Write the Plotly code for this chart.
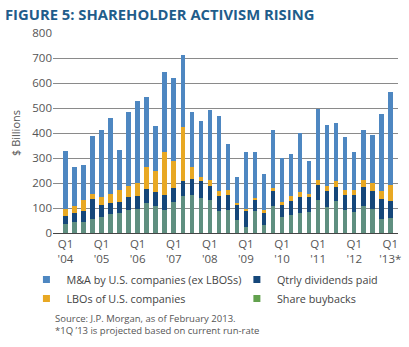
import plotly.graph_objects as go

# Quarterly categories, Q1 2004 through Q1 2013
years = ["04", "05", "06", "07", "08", "09", "10", "11", "12", "13"]
quarters = [f"Q{q} '{y}" for y in years for q in range(1, 5)][:37]

# $ billions per quarter
buybacks = [36, 45, 45, 56, 64, 77, 81, 94, 98, 121, 109, 94, 125, 148, 154, 140,
            131, 87, 93, 52, 25, 87, 32, 107, 64, 74, 80, 85, 131, 103, 127, 91,
            86, 107, 97, 56, 60]
dividends = [33, 37, 42, 79, 47, 44, 42, 52, 49, 54, 54, 58, 55, 59, 61, 67,
             57, 60, 58, 61, 66, 48, 49, 60, 47, 53, 63, 59, 60, 64, 58, 63,
             65, 76, 70, 82, 70]
lbos = [29, 27, 45, 21, 33, 35, 49, 42, 53, 89, 87, 174, 108, 218, 49, 17,
        24, 21, 21, 9, 4, 7, 10, 15, 14, 21, 21, 12, 21, 21, 23, 17,
        21, 28, 32, 29, 61]
mna = [232, 155, 142, 234, 269, 305, 162, 297, 329, 281, 179, 318, 332, 289, 221, 226,
       281, 301, 186, 102, 231, 184, 144, 231, 177, 170, 236, 134, 286, 245, 232, 213,
       154, 202, 195, 309, 373]

tick_vals = quarters[::4]
tick_text = [f"Q1<br>'{y}" for y in years[:-1]] + ["Q1<br>'13*"]

FONT = "Open Sans"
GRAY = "#555555"

# name, values, bar colour, legend swatch colour, legend column, rank in column
series = [
    ("Share buybacks", buybacks, "#5f8f80", "#62a14e", "legend2", 2),
    ("Qtrly dividends paid", dividends, "#15477a", "#15477a", "legend2", 1),
    ("LBOs of U.S. companies", lbos, "#e8a823", "#e8a823", "legend", 2),
    ("M&A by U.S. companies (ex LBOSs)", mna, "#4e87c1", "#4e87c1", "legend", 1),
]

fig = go.Figure()
for name, vals, color, swatch, leg, rank in series:
    fig.add_trace(go.Bar(x=quarters, y=vals, name=name, marker_color=color,
                         marker_line_width=0, showlegend=False))
    # small square swatch for the legend entry
    fig.add_trace(go.Scatter(x=[None], y=[None], mode="markers", name=name,
                             marker=dict(symbol="square", size=7, color=swatch),
                             legend=leg, legendrank=rank))

legend_common = dict(orientation="v", yanchor="top", xanchor="left", traceorder="normal",
                     font=dict(size=10.8, color="#444444", family=FONT),
                     itemwidth=30, tracegroupgap=0, bgcolor="rgba(0,0,0,0)")

fig.update_layout(
    width=409, height=347,
    margin=dict(l=53, r=8, t=33, b=114),
    barmode="stack", bargap=0.5,
    plot_bgcolor="white", paper_bgcolor="white",
    font=dict(family=FONT, color=GRAY, size=11),
    showlegend=True,
    legend=dict(x=-0.077, y=-0.16, **legend_common),
    legend2=dict(x=0.533, y=-0.16, **legend_common),
    annotations=[
        dict(text="<b>FIGURE 5: SHAREHOLDER ACTIVISM RISING</b>", xref="paper", yref="paper",
             x=-50 / 348, y=1 + 31 / 200, xanchor="left", yanchor="top", showarrow=False,
             font=dict(size=14.8, color="#1f5d8b", family=FONT)),
        dict(text="Source: J.P. Morgan, as of February 2013.<br>*1Q ’13 is projected based on current run-rate",
             xref="paper", yref="paper", x=0.0, y=-0.385, xanchor="left", yanchor="top",
             showarrow=False, align="left", font=dict(size=9.5, color=GRAY, family=FONT)),
    ],
)

fig.update_xaxes(tickmode="array", tickvals=tick_vals, ticktext=tick_text,
                 range=[-1.38, 36.85], showgrid=False, showline=True,
                 linecolor="#444444", linewidth=1, ticks="", tickfont=dict(size=11.5, color=GRAY))
fig.update_yaxes(range=[0, 800], dtick=100, showgrid=True, gridcolor="#8a8a8a", gridwidth=1,
                 zeroline=False, ticks="", tickfont=dict(size=11.5, color=GRAY),
                 title=dict(text="$ Billions", font=dict(size=11, color=GRAY), standoff=9))

fig.write_html("out.html")
